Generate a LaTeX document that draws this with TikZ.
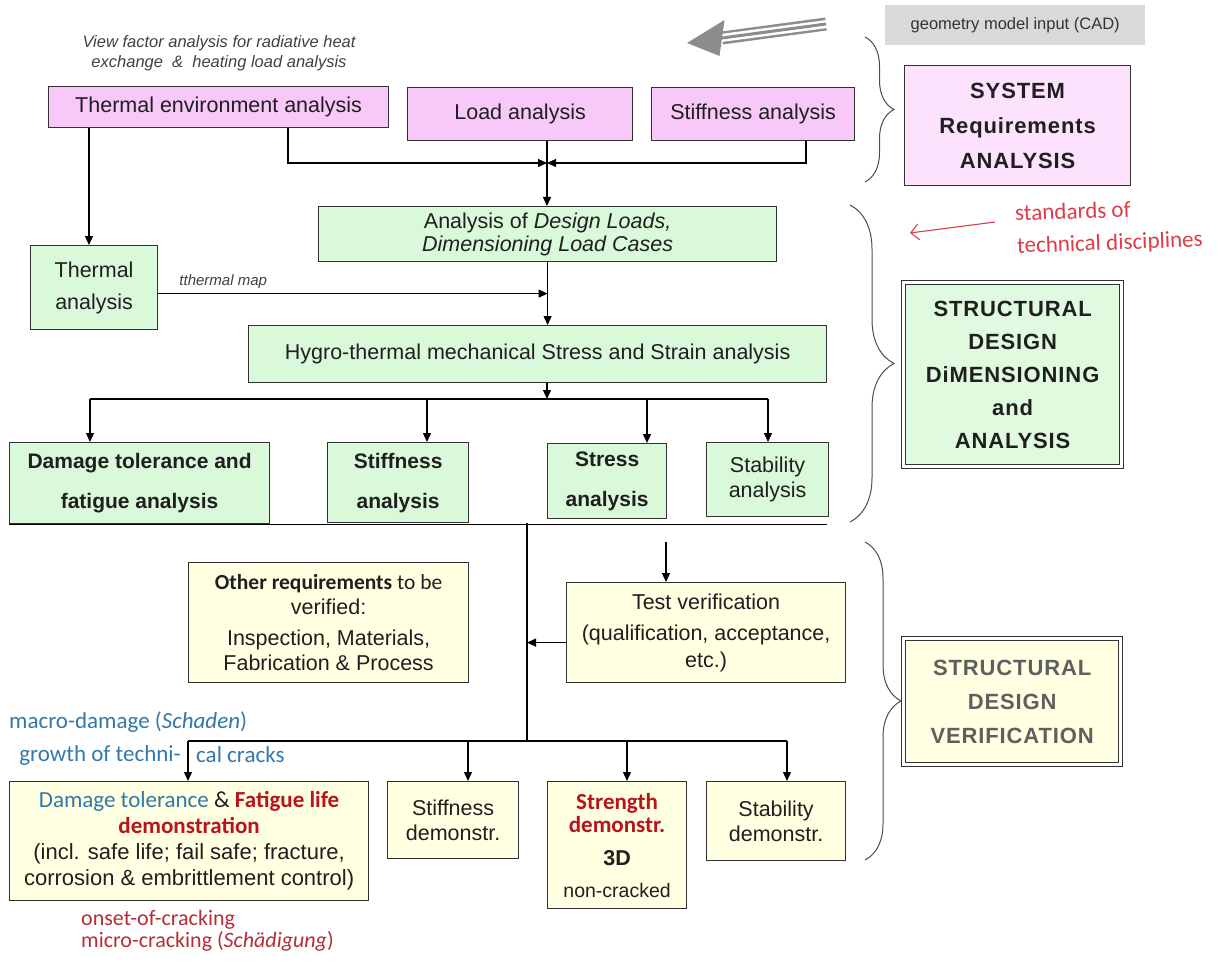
\documentclass[tikz,border=0pt]{standalone}
\usepackage{fontspec}
\setmainfont{Liberation Sans}
\newfontfamily\calibri{Carlito}
\usetikzlibrary{arrows.meta,decorations.pathreplacing,calc}

\definecolor{pinkfill}{RGB}{248,200,248}
\definecolor{syspink}{RGB}{252,226,252}
\definecolor{greenfill}{RGB}{218,249,218}
\definecolor{headgreen}{RGB}{224,250,224}
\definecolor{creamfill}{RGB}{255,255,226}
\definecolor{boxline}{RGB}{50,50,50}
\definecolor{cadgrey}{RGB}{217,217,217}
\definecolor{arrowgrey}{RGB}{140,140,140}
\definecolor{stdred}{RGB}{222,60,70}
\definecolor{dkred}{RGB}{185,20,30}
\definecolor{macroblue}{RGB}{50,120,170}
\definecolor{crackred}{RGB}{180,45,55}
\definecolor{vergrey}{RGB}{95,95,95}

\newcommand\fsz[2]{\fontsize{#1}{#2}\selectfont}

\begin{document}
\begin{tikzpicture}[x=1pt,y=-1pt,
    box/.style={draw=boxline, line width=1.2pt, anchor=north west, inner sep=0pt,
                align=center, text=black!88, font=\fsz{21.5}{25}},
    pinkbox/.style={box, fill=pinkfill},
    greenbox/.style={box, fill=greenfill},
    creambox/.style={box, fill=creamfill},
    headbox/.style={box, double=white, double distance=2.4pt, line width=1.3pt,
                    font=\fsz{22}{33}\bfseries\addfontfeature{LetterSpace=4}},
    arr/.style={line width=1.3pt, -{Triangle[length=9pt,width=8pt]}},
    link/.style={line width=1.3pt},
    brc/.style={decorate, decoration={brace, amplitude=#1}, draw=black!70, line width=1pt},
    note/.style={inner sep=0pt}
  ]
  \useasboundingbox (0,0) rectangle (1219,963);

  % geometry input
  \node[fill=cadgrey, anchor=north west, inner sep=0pt, minimum width=260, minimum height=40,
        font=\fsz{16.5}{20}, text=black!80] (cad) at (885,5) {geometry model input (CAD)};
  \draw[arrowgrey, line width=13pt] (826,24) -- (722,38);
  \draw[white, line width=8pt] (827,24) -- (721,38);
  \draw[arrowgrey, line width=3pt] (826,24) -- (722,38);
  \fill[arrowgrey] (687,43) -- (724.5,20) -- (719.5,56) -- cycle;

  % system requirements level
  \node[note, font=\itshape\fsz{16.5}{20}, text=black!75, align=center] (vf) at (219,53)
    {View factor analysis for radiative heat\\exchange \ \& \ heating load analysis};
  \node[pinkbox, minimum width=340, minimum height=41] (te) at (48,86) {Thermal environment analysis};
  \node[pinkbox, minimum width=225, minimum height=53] (ld) at (407,87) {Load analysis};
  \node[pinkbox, minimum width=203, minimum height=53] (sf) at (651,87) {Stiffness analysis};
  \node[box, fill=syspink, minimum width=226, minimum height=120,
        font=\fsz{22}{35}\bfseries\addfontfeature{LetterSpace=4}] (sys) at (904,65)
    {SYSTEM\\Requirements\\ANALYSIS};

  \coordinate (jn) at (547,163);
  \coordinate (teA) at ($(te.south west)+(240,0)$);
  \coordinate (sfA) at ($(sf.south west)+(155,0)$);
  \coordinate (teB) at ($(te.south west)+(41,0)$);
  \draw[arr] (teA) |- (jn);
  \draw[arr] (sfA) |- (jn);

  % dimensioning level
  \node[greenbox, minimum width=458, minimum height=55, font=\fsz{21.5}{23}] (dl) at (318,206)
    {Analysis of \textit{Design Loads,}\\\textit{Dimensioning Load Cases}};
  \node[greenbox, minimum width=127, minimum height=84, font=\fsz{21.5}{32}] (th) at (30,245)
    {Thermal\\analysis};
  \node[greenbox, minimum width=578, minimum height=57] (hy) at (248,325)
    {Hygro-thermal mechanical Stress and Strain analysis};
  \draw[arr] (ld.south -| jn) -- (dl.north -| jn);
  \draw[arr] (teB) -- (teB |- th.north);
  \draw[arr] (dl.south) -- (dl.south |- hy.north);
  \coordinate (thm) at ($(th.east)+(0,6)$);
  \draw[arr] (thm) -- (thm -| dl.south)
    node[pos=0.167, above=1pt, font=\itshape\fsz{15}{18}, text=black!75] (tmap) {tthermal map};

  \node[greenbox, minimum width=260, minimum height=81, font=\bfseries\fsz{21}{40}] (dmg) at (9,442)
    {Damage tolerance and\\fatigue analysis};
  \node[greenbox, minimum width=141, minimum height=80, font=\bfseries\fsz{21}{40}] (sa) at (327,442)
    {Stiffness\\analysis};
  \node[greenbox, minimum width=119, minimum height=75, font=\bfseries\fsz{21}{40}] (st) at (547,443)
    {Stress\\analysis};
  \node[greenbox, minimum width=122, minimum height=74] (sb) at (706,442)
    {Stability\\analysis};
  \node[headbox, fill=headgreen, minimum width=218, minimum height=184] (strd) at (903,282)
    {STRUCTURAL\\DESIGN\\DiMENSIONING\\and\\ANALYSIS};

  \coordinate (dsplit) at (547,399);
  \coordinate (dleft) at (90,399);
  \coordinate (dright) at (768,399);
  \draw[arr] (hy.south -| dsplit) -- (dsplit);
  \draw[link] (dleft) -- (dright);
  \foreach \b/\x in {dmg/90, sa/427, st/647, sb/768} {
    \coordinate (ta) at (\x,399);
    \draw[arr] (ta) -- (ta |- \b.north);
  }
  \draw[link] (dmg.south west) -- (dmg.south west -| hy.south east);

  % standards note
  \node[note, anchor=west, font=\calibri\fsz{23}{28}, text=stdred, rotate=2] (std1) at (1015,213)
    {standards of};
  \node[note, anchor=west, font=\calibri\fsz{23}{28}, text=stdred, rotate=2] (std2) at (1017,247)
    {technical disciplines};
  \coordinate (stdtail) at (995,222);
  \coordinate (stdhead) at (910,233);
  \draw[stdred, line width=1.1pt, -{Straight Barb[length=8pt,width=16pt]}] (stdtail) -- (stdhead);

  % verification level
  \node[creambox, minimum width=280, minimum height=120] (oth) at (188,562)
    {{\calibri\bfseries Other requirements}{\calibri\ to be}\\verified:\\[6pt]Inspection, Materials,\\Fabrication \& Process};
  \node[creambox, minimum width=279, minimum height=100, font=\fsz{21.5}{27}] (tv) at (566,582)
    {Test verification\\[4pt](qualification, acceptance,\\etc.)};
  \node[headbox, fill=creamfill, text=vergrey, minimum width=217, minimum height=126,
        font=\fsz{22}{34}\bfseries\addfontfeature{LetterSpace=4}] (strv) at (903,638)
    {STRUCTURAL\\DESIGN\\VERIFICATION};

  \coordinate (vtop) at (527,523);
  \coordinate (vbot) at (527,741);
  \draw[link] (vtop) -- (vbot);
  \coordinate (tvin) at (666,542);
  \draw[arr] (tvin) -- (tvin |- tv.north);
  \coordinate (tvw) at ($(tv.west)+(0,10)$);
  \draw[arr] (tvw) -- (tvw -| vtop);

  \node[creambox, minimum width=359, minimum height=119, font=\fsz{22}{26}] (dtd) at (9,781)
    {{\calibri\fsz{23}{26}\textcolor{macroblue}{Damage tolerance} \& \textcolor{dkred}{\bfseries Fatigue life}}\\
     {\calibri\fsz{23}{26}\bfseries\color{dkred}demonstration}\\
     (incl. safe life; fail safe; fracture,\\corrosion \& embrittlement control)};
  \node[creambox, minimum width=131, minimum height=77] (sfd) at (387,781)
    {Stiffness\\demonstr.};
  \node[creambox, minimum width=139, minimum height=127, font=\fsz{21.5}{23}] (sgd) at (547,781)
    {{\calibri\fsz{23}{23}\bfseries\color{dkred}Strength}\\{\calibri\fsz{23}{23}\bfseries\color{dkred}demonstr.}\\[10pt]
     {\bfseries 3D}\\[9pt]{\fsz{19.5}{22}non-cracked}};
  \node[creambox, minimum width=139, minimum height=79] (sbd) at (706,781)
    {Stability\\demonstr.};

  \coordinate (bleft) at (188,741);
  \coordinate (bright) at (787,741);
  \draw[link] (bleft) -- (bright);
  \foreach \b/\x in {dtd/188, sfd/468, sgd/627, sbd/787} {
    \coordinate (ta) at (\x,741);
    \draw[arr] (ta) -- (ta |- \b.north);
  }

  % damage notes
  \node[note, anchor=west, font=\calibri\fsz{23}{26}, text=macroblue] (macro) at (9,722)
    {macro-damage (\textit{Schaden})};
  \node[note, anchor=east, font=\calibri\fsz{23}{26}, text=macroblue] (grow1) at (181,755)
    {growth of techni-};
  \node[note, anchor=west, font=\calibri\fsz{23}{26}, text=macroblue] (grow2) at (196,755)
    {cal cracks};
  \node[note, anchor=west, align=left, font=\calibri\fsz{22}{22}, text=crackred] (crack) at (81,931)
    {onset-of-cracking\\micro-cracking (\textit{Schädigung})};

  % braces
  \draw[brc=29pt] (865,37) -- (865,182);
  \draw[brc=44pt] (850,205) -- (850,522);
  \draw[brc=36pt] (865,542) -- (865,860);
\end{tikzpicture}
\end{document}
